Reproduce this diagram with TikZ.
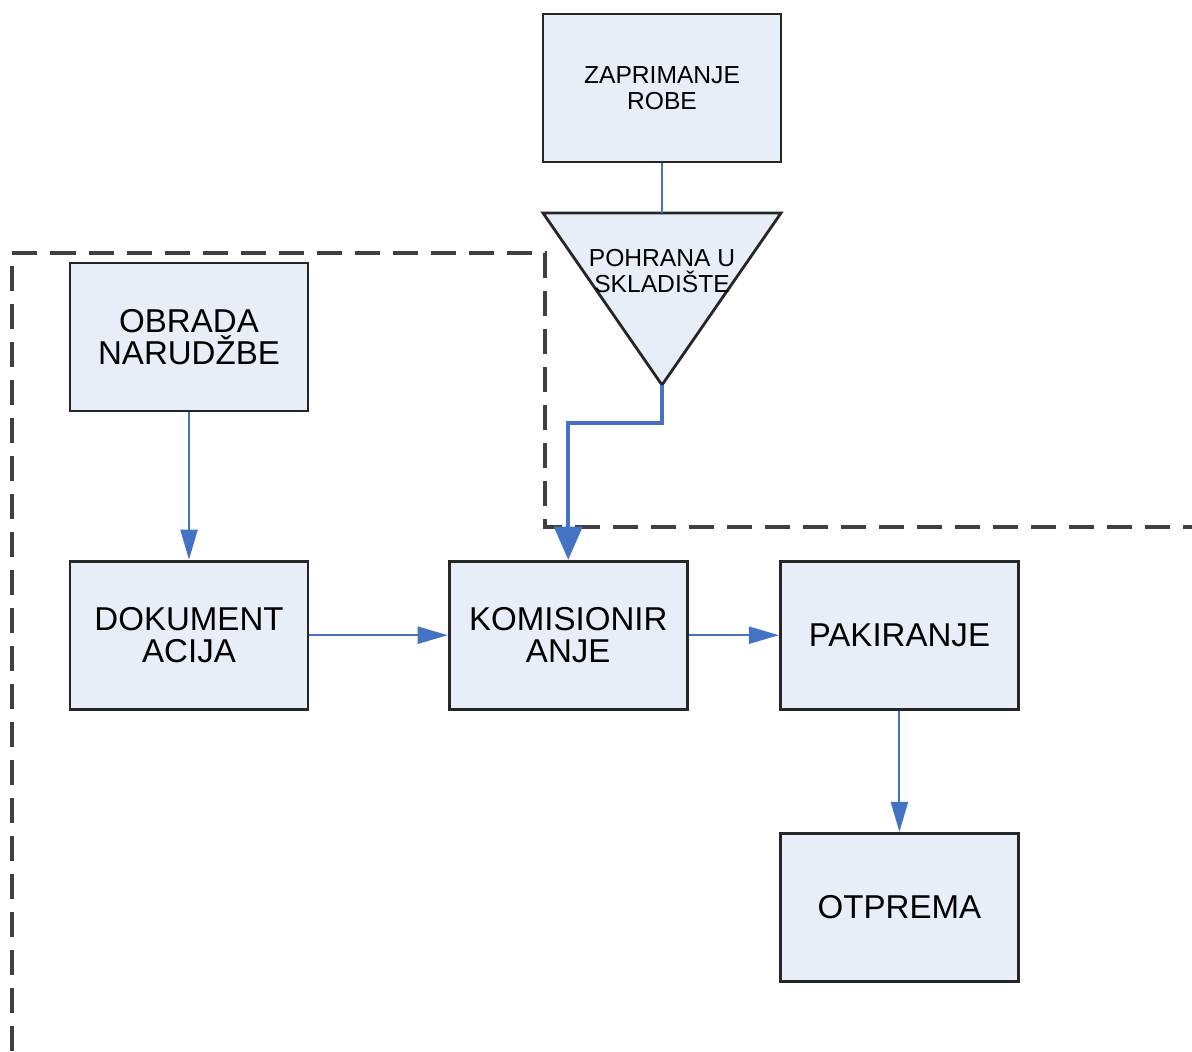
\documentclass[tikz,border=0pt]{standalone}
\usepackage{fontspec}
\setmainfont{Liberation Sans}
\usetikzlibrary{arrows.meta,positioning}
\definecolor{plava}{RGB}{68,114,196}
\definecolor{svijetla}{RGB}{232,238,248}
\definecolor{siva}{RGB}{64,64,64}

\begin{document}
\begin{tikzpicture}[x=0.01cm,y=-0.01cm,node distance=3cm,on grid,
  kutija/.style={draw=black!85,line width=0.8pt,fill=svijetla,minimum width=2.38cm,minimum height=1.48cm,align=center,inner sep=0pt,font=\fontsize{9.4}{9.3}\selectfont},
  mali/.style={align=center,font=\fontsize{7}{7.4}\selectfont},
  tok/.style={plava,line width=0.6pt,-{Triangle[length=0.3cm,width=0.17cm]}},
  tokdeblji/.style={plava,line width=1pt,-{Triangle[length=0.33cm,width=0.28cm]}},
  granica/.style={siva,line width=0.9pt,dash pattern=on 0.25cm off 0.13cm}]

\useasboundingbox (0,0) rectangle (1192,1051);

% granica zone skladista
\draw[granica] (12,1051) -- (12,253) -- (545,253) -- (545,527) -- (1192,527);

\node (zap) [kutija,mali] at (662,88) {ZAPRIMANJE\\ROBE};

% pohrana (obrnuti trokut)
\coordinate (pohT) at (662,213);
\coordinate (pohA) at (662,385);
\draw[draw=black!85,line width=0.8pt,fill=svijetla] (543,213) -- (781,213) -- (pohA) -- cycle;
\node (poh) [mali] at (662,271) {POHRANA U\\SKLADIŠTE};

\node (obr) [kutija] at (189,337) {OBRADA\\NARUDŽBE};
\node (dok) [kutija,below=2.98cm of obr] {DOKUMENT\\ACIJA};
\node (kom) [kutija,right=3.79cm of dok] {KOMISIONIR\\ANJE};
\node (pak) [kutija,right=3.31cm of kom] {PAKIRANJE};
\node (otp) [kutija,below=2.72cm of pak] {OTPREMA};

\draw[plava,line width=0.6pt] (zap) -- (pohT);
\draw[tokdeblji] (pohA) -- ++(0,38) -| (kom.north);
\draw[tok] (obr) -- (dok);
\draw[tok] (dok) -- (kom);
\draw[tok] (kom) -- (pak);
\draw[tok] (pak) -- (otp);

\end{tikzpicture}
\end{document}
